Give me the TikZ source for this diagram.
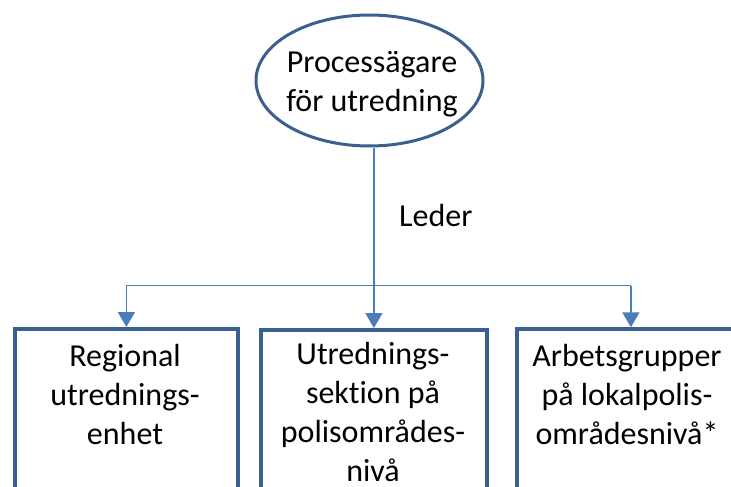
\documentclass[tikz,border=0pt]{standalone}
\usepackage{fontspec}
\setmainfont[Ligatures=NoCommon]{Carlito}
\usetikzlibrary{arrows.meta,shapes.geometric}
\definecolor{bord}{HTML}{3A6090}
\definecolor{conn}{HTML}{4A7EBB}
\tikzset{
  owner/.style={ellipse, draw=bord, line width=3pt, minimum width=227pt, minimum height=131pt, inner sep=0pt},
  unitbox/.style={rectangle, draw=bord, line width=3.8pt, minimum height=220pt, inner sep=0pt, anchor=north west},
  lbl/.style={align=center, inner sep=0pt, font=\fontsize{32}{39}\selectfont},
  conline/.style={draw=conn, line width=1.8pt},
  arr/.style={conline, -{Triangle[width=17pt,length=15pt]}}
}
\begin{document}
\begin{tikzpicture}[x=1pt,y=-1pt]
\useasboundingbox (0,0) rectangle (731,487);
\clip (0,0) rectangle (731,487);
\node[owner] (own) at (369.5,80.5) {};
\node[lbl, anchor=north] (ownt) at (372,45.4) {\strut Processägare\\för utredning};
\node[unitbox, minimum width=223pt] (b1) at (13,327) {};
\node[unitbox, minimum width=226pt] (b2) at (259,328) {};
\node[unitbox, minimum width=228pt] (b3) at (515,327.3) {};
\node[lbl, anchor=north] (t1) at (125,339.4) {\strut Regional\\utrednings-\\enhet};
\node[lbl, anchor=north] (t2) at (373,337) {\strut Utrednings-\\sektion på\\polisområdes-\\nivå};
\node[lbl, anchor=north] (t3) at (627,339.4) {\strut Arbetsgrupper\\på lokalpolis-\\områdesnivå*};
\node[lbl, anchor=base west] (led) at (399,226) {Leder};
\coordinate (hl) at (b1.north |- 0,285.5);
\coordinate (hr) at (b3.north |- 0,285.5);
\draw[conline] (hl) -- (hr);
\draw[arr] (b2.north |- own.south) -- (b2.north);
\draw[arr] (hl) -- (b1.north);
\draw[arr] (hr) -- (b3.north);
\end{tikzpicture}
\end{document}
